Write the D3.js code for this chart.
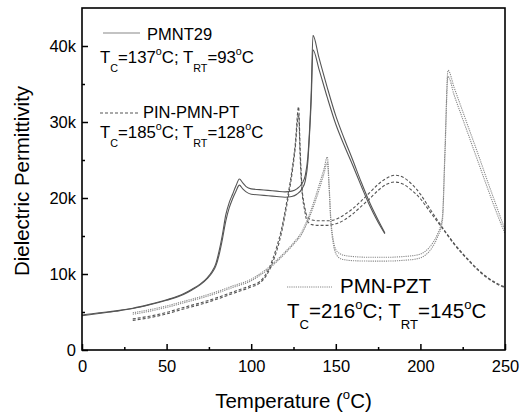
<!DOCTYPE html>
<html>
<head>
<meta charset="utf-8">
<script src="https://cdn.jsdelivr.net/npm/d3@7"></script>
<style>
  body { margin: 0; background: #fff; }
  svg { display: block; font-family: "Liberation Sans", Arial, sans-serif; }
</style>
</head>
<body>
<svg id="chart"></svg>
<script>
// PMNT29 (solid, two runs)
const pmntT = [0, 10, 20, 30, 40, 50, 60, 65, 70, 74, 77, 79, 81, 83, 85, 87, 89, 91, 93, 95, 97, 100, 105, 110, 115, 120, 124, 127, 130, 132, 133.5, 134.5, 135.5, 136.5, 140, 145, 150, 155, 160, 165, 170, 175, 179];
const pmntA = [4600, 4900, 5150, 5500, 6000, 6600, 7400, 8000, 8700, 9500, 10400, 11300, 13000, 15200, 17800, 19400, 20500, 21600, 22500, 22000, 21500, 21200, 21100, 21000, 20900, 20800, 20900, 21200, 21900, 23000, 25500, 29000, 34000, 41400, 38500, 34500, 30800, 27800, 25000, 22100, 19400, 17100, 15400];
const pmntB = [4500, 4800, 5100, 5450, 5950, 6550, 7300, 7900, 8600, 9400, 10200, 11000, 12500, 14600, 17000, 18700, 19900, 20900, 21700, 21200, 20800, 20500, 20400, 20300, 20200, 20100, 20200, 20500, 21200, 22300, 24800, 28500, 33000, 39500, 37000, 33200, 29700, 26900, 24300, 21600, 19000, 16800, 15300];

// PIN-PMN-PT (dashed, two runs)
const pinT = [30, 40, 50, 60, 70, 80, 90, 100, 105, 110, 115, 118, 121, 124, 126, 128, 129, 130, 131.5, 133, 136, 140, 145, 150, 155, 160, 165, 170, 175, 180, 185, 190, 195, 200, 205, 210, 215, 220, 225, 230, 235, 240, 245, 250];
const pinA = [4100, 4450, 4950, 5600, 6200, 6900, 7700, 8500, 9000, 10500, 13500, 16000, 19500, 23500, 27000, 32000, 26000, 21500, 19000, 17600, 17100, 17000, 17000, 17200, 17800, 18600, 19600, 20700, 21800, 22600, 23000, 22700, 21800, 20500, 18800, 17100, 15500, 14000, 12700, 11500, 10400, 9500, 8800, 8300];
const pinB = [3900, 4250, 4750, 5400, 6000, 6700, 7500, 8300, 8800, 10200, 13000, 15500, 19000, 23000, 26500, 31000, 25000, 21000, 18500, 17000, 16500, 16400, 16400, 16600, 17100, 17900, 18900, 19900, 21000, 21800, 22100, 21800, 21000, 19900, 18400, 16900, 15400, 13900, 12600, 11400, 10300, 9400, 8700, 8200];

// PMN-PZT (dotted, two runs)
const pzT = [30, 40, 50, 60, 70, 80, 90, 100, 105, 110, 115, 120, 125, 130, 135, 140, 143, 145, 146, 147, 148.5, 150, 153, 156, 160, 170, 180, 190, 198, 203, 207, 210, 213, 214.5, 216.3, 220, 225, 230, 235, 240, 245, 250];
const pzA = [4900, 5300, 5800, 6400, 7000, 7700, 8500, 9300, 10000, 10800, 11800, 12900, 14100, 15600, 18200, 21600, 23800, 25400, 22000, 17500, 14500, 13200, 12600, 12400, 12300, 12200, 12200, 12300, 12500, 13000, 14000, 15200, 17500, 26300, 36800, 34500, 31400, 28300, 25200, 22000, 18900, 15800];
const pzB = [4700, 5100, 5600, 6200, 6800, 7500, 8300, 9100, 9800, 10600, 11600, 12700, 13900, 15300, 17800, 21000, 23200, 24700, 21500, 17000, 14000, 12700, 12000, 11850, 11750, 11700, 11700, 11800, 12000, 12500, 13500, 14800, 17000, 25500, 36000, 33500, 30400, 27300, 24200, 21100, 18100, 15300];

const xTicks = [0, 50, 100, 150, 200, 250];
const xMinor = [25, 75, 125, 175, 225];
const yTicks = [0, 10000, 20000, 30000, 40000];
const yMinor = [5000, 15000, 25000, 35000];

const margin = { top: 8, right: 16, bottom: 66, left: 82 };
const width = 521 - margin.left - margin.right;
const height = 416 - margin.top - margin.bottom;

const root = d3.select("#chart").attr("width", 521).attr("height", 416);
const svg = root.append("g").attr("transform", `translate(${margin.left},${margin.top})`);

const x = d3.scaleLinear().domain([0, 250]).range([0, width]);
const y = d3.scaleLinear().domain([0, 45000]).range([height, 0]);

const styles = {
  solid: { stroke: "#555", dash: null, w: 1.1 },
  dashed: { stroke: "#555", dash: "3,2", w: 1.1 },
  dotted: { stroke: "#888", dash: "1.2,1", w: 1.1 }
};

const series = [
  { t: pmntT, v: pmntA, s: "solid" },
  { t: pmntT, v: pmntB, s: "solid" },
  { t: pinT, v: pinA, s: "dashed" },
  { t: pinT, v: pinB, s: "dashed" },
  { t: pzT, v: pzA, s: "dotted" },
  { t: pzT, v: pzB, s: "dotted" }
];

const line = d3.line()
  .x(d => x(d[0]))
  .y(d => y(d[1]))
  .curve(d3.curveMonotoneX);

series.forEach(sr => {
  const st = styles[sr.s];
  svg.append("path")
    .datum(sr.t.map((t, i) => [t, sr.v[i]]))
    .attr("fill", "none")
    .attr("stroke", st.stroke)
    .attr("stroke-width", st.w)
    .attr("stroke-dasharray", st.dash)
    .attr("d", line);
});

// axes
svg.append("g")
  .attr("transform", `translate(0,${height})`)
  .call(d3.axisBottom(x).tickValues(xTicks).tickSize(-6).tickPadding(10).tickFormat(d3.format("d")));
svg.append("g")
  .attr("transform", `translate(0,${height})`)
  .call(d3.axisBottom(x).tickValues(xMinor).tickSize(-3).tickFormat(""));
svg.append("g")
  .call(d3.axisLeft(y).tickValues(yTicks).tickSize(-6).tickPadding(6).tickFormat(d => d === 0 ? "0" : d / 1000 + "k"));
svg.append("g")
  .call(d3.axisLeft(y).tickValues(yMinor).tickSize(-3).tickFormat(""));

svg.selectAll(".domain").remove();
svg.selectAll(".tick line").attr("stroke", "#000").attr("stroke-width", 1.5);
svg.selectAll(".tick text")
  .style("font-size", "16.5px")
  .style("font-family", "'Liberation Sans', Arial, sans-serif")
  .attr("fill", "#000");

svg.append("rect")
  .attr("width", width)
  .attr("height", height)
  .attr("fill", "none")
  .attr("stroke", "#000")
  .attr("stroke-width", 1.6);

// rich text with subscripts / superscripts
function richText(px, py, size, parts) {
  const txt = svg.append("text")
    .attr("x", px - margin.left)
    .attr("y", py - margin.top)
    .style("font-size", size + "px")
    .attr("fill", "#000");
  let shift = 0;
  parts.forEach(p => {
    const [s, kind] = typeof p === "string" ? [p, null] : p;
    const target = kind === "sub" ? size * 0.55 : kind === "sup" ? -size * 0.45 : 0;
    txt.append("tspan")
      .attr("dy", target - shift)
      .style("font-size", (kind ? size * 0.64 : size) + "px")
      .text(s);
    shift = target;
  });
  return txt;
}

// axis titles
svg.append("text")
  .attr("transform", `translate(${28.5 - margin.left},${height / 2 + 2}) rotate(-90)`)
  .attr("text-anchor", "middle")
  .style("font-size", "20.5px")
  .text("Dielectric Permittivity");

richText(0, 408, 20.5, ["Temperature (", ["o", "sup"], "C)"])
  .attr("x", width / 2)
  .attr("text-anchor", "middle");

// legends
const legendLine = (x1, x2, yy, s) => {
  const st = styles[s];
  svg.append("line")
    .attr("x1", x1 - margin.left).attr("x2", x2 - margin.left)
    .attr("y1", yy - margin.top).attr("y2", yy - margin.top)
    .attr("stroke", s === "solid" ? "#888" : st.stroke)
    .attr("stroke-width", st.w)
    .attr("stroke-dasharray", st.dash);
};

legendLine(103, 140, 33, "solid");
richText(147, 40, 16.5, ["PMNT29"]);
richText(100, 63, 16.8, ["T", ["C", "sub"], "=137", ["o", "sup"], "C; T", ["RT", "sub"], "=93", ["o", "sup"], "C"]);

legendLine(100, 138, 113, "dashed");
richText(143, 117.5, 16.5, ["PIN-PMN-PT"]);
richText(100, 137.5, 16.8, ["T", ["C", "sub"], "=185", ["o", "sup"], "C; T", ["RT", "sub"], "=128", ["o", "sup"], "C"]);

legendLine(287, 332, 287, "dotted");
richText(340, 292.5, 20.5, ["PMN-PZT"]);
richText(287, 318, 20.5, ["T", ["C", "sub"], "=216", ["o", "sup"], "C; T", ["RT", "sub"], "=145", ["o", "sup"], "C"]);
</script>
</body>
</html>
